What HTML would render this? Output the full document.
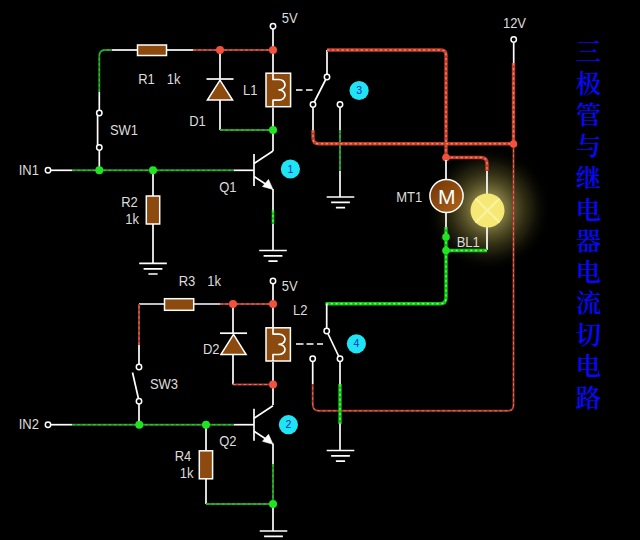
<!DOCTYPE html>
<html lang="zh"><head><meta charset="utf-8"><title>三极管与继电器电流切电路</title>
<style>
html,body{margin:0;padding:0;background:#000;}
body{width:640px;height:540px;overflow:hidden;}
svg{display:block}
svg text{font-family:"Liberation Sans","Noto Sans CJK SC",sans-serif;fill:#dcdcdc;}
.w{fill:none;stroke:#fff;stroke-width:1.7;stroke-linecap:butt;stroke-linejoin:round}
.t{fill:#000;stroke:#fff;stroke-width:1.5}
.b{fill:#8c4a0e;stroke:#fff;stroke-width:1.5;stroke-linejoin:miter}
.cn text{font-family:"Liberation Serif","Noto Serif CJK SC",serif;font-weight:600;fill:#0808fa;font-size:25.5px;text-anchor:middle}
</style></head><body>
<svg width="640" height="540" viewBox="0 0 640 540">
<defs>
<radialGradient id="glow" cx="50%" cy="50%" r="50%">
<stop offset="0" stop-color="#8a8248" stop-opacity="1"/>
<stop offset="0.25" stop-color="#807842" stop-opacity="1"/>
<stop offset="0.45" stop-color="#5a5428" stop-opacity="0.85"/>
<stop offset="0.7" stop-color="#3a3616" stop-opacity="0.5"/>
<stop offset="1" stop-color="#000" stop-opacity="0"/>
</radialGradient>
<linearGradient id="mot" x1="0" y1="0" x2="1" y2="1">
<stop offset="0" stop-color="#6e3204"/>
<stop offset="1" stop-color="#b0651c"/>
</linearGradient>
</defs>
<rect width="640" height="540" fill="#000"/>
<circle cx="488.5" cy="209" r="63" fill="url(#glow)"/>

<path d="M273 29V73" class="w"/>
<circle cx="273" cy="26.2" r="2.7" class="t"/>
<path d="M273 107.5V151" class="w"/>
<path d="M99.3 92V56Q99.3 50 105.3 50H112" fill="none" stroke="#1b981b" stroke-width="1.9" stroke-linecap="butt" stroke-linejoin="round"/>
<path d="M99.3 92V56Q99.3 50 105.3 50H112" fill="none" stroke="#52bd52" stroke-width="0.9" stroke-dasharray="3 2.2" stroke-linejoin="round"/>
<path d="M112 50H138" class="w"/>
<path d="M166 50H193" class="w"/>
<path d="M193 50H273" fill="none" stroke="#ae352a" stroke-width="1.9" stroke-linecap="butt" stroke-linejoin="round"/>
<path d="M193 50H273" fill="none" stroke="#e07868" stroke-width="0.9" stroke-dasharray="3 2.2" stroke-linejoin="round"/>
<rect x="137.5" y="45" width="29.0" height="10.5" class="b"/>
<path d="M99.3 92V110" class="w"/>
<path d="M97.6 113V147.5" class="w"/>
<path d="M99.3 150.5V170" class="w"/>
<circle cx="99.3" cy="113" r="2.7" class="t"/>
<circle cx="99.3" cy="147.5" r="2.7" class="t"/>
<path d="M51 170.3H72" class="w"/>
<path d="M72 170.3H234" fill="none" stroke="#1b981b" stroke-width="1.9" stroke-linecap="butt" stroke-linejoin="round"/>
<path d="M72 170.3H234" fill="none" stroke="#52bd52" stroke-width="0.9" stroke-dasharray="3 2.2" stroke-linejoin="round"/>
<path d="M234 170.3H254" class="w"/>
<circle cx="48" cy="170.3" r="2.7" class="t"/>
<path d="M153 170V196M153 224V263.4" class="w"/>
<rect x="146.3" y="196" width="13.399999999999977" height="28" class="b"/>
<path d="M139.2 263.4H166.8M143.6 268.79999999999995H162.4M148.4 274.0H157.6" class="w"/>
<path d="M220 50V79M220 99V130" class="w"/>
<path d="M206.5 79H233.5" class="w"/>
<path d="M220 80.2L232.6 100H207.4Z" class="b"/>
<path d="M220 130H273" fill="none" stroke="#1b981b" stroke-width="1.9" stroke-linecap="butt" stroke-linejoin="round"/>
<path d="M220 130H273" fill="none" stroke="#52bd52" stroke-width="0.9" stroke-dasharray="3 2.2" stroke-linejoin="round"/>
<rect x="266" y="73.2" width="24.600000000000023" height="33.5" class="b" stroke-width="1.6"/>
<path d="M273 73.2V79.5H279A6 5.175000000000001 0 0 1 279 89.85A6 5.175000000000001 0 0 1 279 100.2H273V106.7" class="w"/>
<path d="M254 154V186" class="w"/>
<path d="M254 163.5L273 151" class="w"/>
<path d="M254 176.5L267 185" class="w"/>
<path d="M273 189.5L262.5 186.5L268.5 179.5Z" fill="#fff" stroke="#fff" stroke-width="0.6" stroke-linejoin="round"/>
<path d="M273 189V250.5" class="w"/>
<path d="M273 210V224" fill="none" stroke="#10c010" stroke-width="2.6" stroke-linecap="butt" stroke-linejoin="round"/>
<path d="M273 210V224" fill="none" stroke="#6df56d" stroke-width="1.4" stroke-dasharray="2.4 2.4" stroke-linejoin="round"/>
<path d="M259.2 250.5H286.8M263.6 255.9H282.4M268.4 261.1H277.6" class="w"/>
<circle cx="220" cy="50" r="4" fill="#f0503c"/>
<circle cx="273" cy="50" r="4" fill="#f0503c"/>
<circle cx="273" cy="130" r="4" fill="#1fe41f"/>
<circle cx="99.3" cy="170.3" r="4" fill="#1fe41f"/>
<circle cx="153" cy="170.3" r="4" fill="#1fe41f"/>
<path d="M296 90H302.5M306 90H312.5" class="w"/>
<path d="M327 50V74" class="w"/>
<path d="M313 104.5L327 77" class="w"/>
<path d="M313 107.5V130" class="w"/>
<path d="M340 107.5V130" class="w"/>
<path d="M340 130V171" fill="none" stroke="#1b981b" stroke-width="1.9" stroke-linecap="butt" stroke-linejoin="round"/>
<path d="M340 130V171" fill="none" stroke="#52bd52" stroke-width="0.9" stroke-dasharray="3 2.2" stroke-linejoin="round"/>
<path d="M340 171V197" class="w"/>
<path d="M326.7 197H354.3M331.1 202.4H349.9M335.9 207.6H345.1" class="w"/>
<circle cx="327" cy="77" r="2.7" class="t"/>
<circle cx="313" cy="104.5" r="2.7" class="t"/>
<circle cx="340" cy="104.5" r="2.7" class="t"/>
<path d="M327 50H441Q446 50 446 55V157.5" fill="none" stroke="#c23b28" stroke-width="3.4" stroke-linecap="butt" stroke-linejoin="round"/>
<path d="M327 50H441Q446 50 446 55V157.5" fill="none" stroke="#ee8468" stroke-width="1.4" stroke-dasharray="2.4 2.4" stroke-linejoin="round"/>
<path d="M313 130V138Q313 143.8 319 143.8H513.5" fill="none" stroke="#c23b28" stroke-width="3.4" stroke-linecap="butt" stroke-linejoin="round"/>
<path d="M313 130V138Q313 143.8 319 143.8H513.5" fill="none" stroke="#ee8468" stroke-width="1.4" stroke-dasharray="2.4 2.4" stroke-linejoin="round"/>
<path d="M513.5 63V144" fill="none" stroke="#c23b28" stroke-width="3.4" stroke-linecap="butt" stroke-linejoin="round"/>
<path d="M513.5 63V144" fill="none" stroke="#ee8468" stroke-width="1.4" stroke-dasharray="2.4 2.4" stroke-linejoin="round"/>
<path d="M446 157.5H481Q487 157.5 487 163.5V171" fill="none" stroke="#c23b28" stroke-width="3.4" stroke-linecap="butt" stroke-linejoin="round"/>
<path d="M446 157.5H481Q487 157.5 487 163.5V171" fill="none" stroke="#ee8468" stroke-width="1.4" stroke-dasharray="2.4 2.4" stroke-linejoin="round"/>
<path d="M513.7 42.5V63" class="w"/>
<circle cx="513.7" cy="39.5" r="2.7" class="t"/>
<path d="M513.5 144V405Q513.5 410.8 508 410.8H319Q312.7 410.8 312.7 404V384" fill="none" stroke="#ae352a" stroke-width="1.9" stroke-linecap="butt" stroke-linejoin="round"/>
<path d="M513.5 144V405Q513.5 410.8 508 410.8H319Q312.7 410.8 312.7 404V384" fill="none" stroke="#e07868" stroke-width="0.9" stroke-dasharray="3 2.2" stroke-linejoin="round"/>
<circle cx="513.5" cy="144" r="3.8" fill="#f0503c"/>
<circle cx="446" cy="157.5" r="3.8" fill="#f0503c"/>
<path d="M446 160V180M446 212V227" class="w"/>
<circle cx="446.5" cy="196" r="16.6" fill="url(#mot)" stroke="#fff" stroke-width="1.5"/>
 <text transform="translate(446.7 203.8) scale(1.08 1)" font-size="19.5" text-anchor="middle" fill="#fff" style="fill:#fff">M</text>
<path d="M487 171V194M487 227V250" class="w"/>
<circle cx="487.5" cy="210.5" r="17" fill="#f5e874"/>
<path d="M475.5 198.5L499.5 222.5M499.5 198.5L475.5 222.5" stroke="#faf2a0" stroke-width="2.2" fill="none"/>
<path d="M446 227V298Q446 303.7 440 303.7H325.5" fill="none" stroke="#10c010" stroke-width="3.4" stroke-linecap="butt" stroke-linejoin="round"/>
<path d="M446 227V298Q446 303.7 440 303.7H325.5" fill="none" stroke="#6df56d" stroke-width="1.4" stroke-dasharray="2.4 2.4" stroke-linejoin="round"/>
<path d="M446 250.5H487" fill="none" stroke="#10c010" stroke-width="3.4" stroke-linecap="butt" stroke-linejoin="round"/>
<path d="M446 250.5H487" fill="none" stroke="#6df56d" stroke-width="1.4" stroke-dasharray="2.4 2.4" stroke-linejoin="round"/>
<circle cx="446" cy="237" r="3.8" fill="#1fe41f"/>
<circle cx="446" cy="250.5" r="3.8" fill="#1fe41f"/>
<path d="M273 284V327M273 362V405" class="w"/>
<circle cx="273" cy="281" r="2.7" class="t"/>
<path d="M139 345V364M139 304H164.5M193.5 304H220" class="w"/>
<path d="M139 345V304" fill="none" stroke="#ae352a" stroke-width="1.9" stroke-linecap="butt" stroke-linejoin="round"/>
<path d="M139 345V304" fill="none" stroke="#e07868" stroke-width="0.9" stroke-dasharray="3 2.2" stroke-linejoin="round"/>
<path d="M220 304H273" fill="none" stroke="#ae352a" stroke-width="1.9" stroke-linecap="butt" stroke-linejoin="round"/>
<path d="M220 304H273" fill="none" stroke="#e07868" stroke-width="0.9" stroke-dasharray="3 2.2" stroke-linejoin="round"/>
<rect x="164.5" y="298.7" width="29.19999999999999" height="11.600000000000023" class="b"/>
<path d="M139 401L132.5 372.5" class="w"/>
<path d="M139 404V424" class="w"/>
<circle cx="139" cy="367" r="2.7" class="t"/>
<circle cx="139" cy="401.2" r="2.7" class="t"/>
<path d="M51 424.7H72" class="w"/>
<path d="M72 424.7H234" fill="none" stroke="#1b981b" stroke-width="1.9" stroke-linecap="butt" stroke-linejoin="round"/>
<path d="M72 424.7H234" fill="none" stroke="#52bd52" stroke-width="0.9" stroke-dasharray="3 2.2" stroke-linejoin="round"/>
<path d="M234 424.7H254" class="w"/>
<circle cx="48" cy="424.7" r="2.7" class="t"/>
<path d="M233 304V333M233 355V384.5" class="w"/>
<path d="M220.0 333.2H247.0" class="w"/>
<path d="M233.5 334.4L246.1 354.6H220.9Z" class="b"/>
<path d="M233 384.5H273" fill="none" stroke="#ae352a" stroke-width="1.9" stroke-linecap="butt" stroke-linejoin="round"/>
<path d="M233 384.5H273" fill="none" stroke="#e07868" stroke-width="0.9" stroke-dasharray="3 2.2" stroke-linejoin="round"/>
<rect x="266" y="327.8" width="24.399999999999977" height="33.19999999999999" class="b" stroke-width="1.6"/>
<path d="M273 327.8V334.1H279A6 5.099999999999994 0 0 1 279 344.3A6 5.099999999999994 0 0 1 279 354.5H273V361" class="w"/>
<path d="M254 408.8V440.8" class="w"/>
<path d="M254 418.3L273 405.8" class="w"/>
<path d="M254 431.3L267 439.8" class="w"/>
<path d="M273 444.3L262.5 441.3L268.5 434.3Z" fill="#fff" stroke="#fff" stroke-width="0.6" stroke-linejoin="round"/>
<path d="M273 443.5V464" class="w"/>
<path d="M273 464V504" fill="none" stroke="#1b981b" stroke-width="1.9" stroke-linecap="butt" stroke-linejoin="round"/>
<path d="M273 464V504" fill="none" stroke="#52bd52" stroke-width="0.9" stroke-dasharray="3 2.2" stroke-linejoin="round"/>
<path d="M273 504V531" class="w"/>
<path d="M259.7 531H287.3M264.1 536.4H282.9M268.9 541.6H278.1" class="w"/>
<path d="M206 424V451M206 479V504" class="w"/>
<rect x="199.3" y="450.8" width="13.299999999999983" height="28.0" class="b"/>
<path d="M206 504H273" fill="none" stroke="#1b981b" stroke-width="1.9" stroke-linecap="butt" stroke-linejoin="round"/>
<path d="M206 504H273" fill="none" stroke="#52bd52" stroke-width="0.9" stroke-dasharray="3 2.2" stroke-linejoin="round"/>
<circle cx="233" cy="304" r="4" fill="#f0503c"/>
<circle cx="273" cy="304" r="4" fill="#f0503c"/>
<circle cx="273" cy="384.5" r="4" fill="#f0503c"/>
<circle cx="139.3" cy="424.7" r="4" fill="#1fe41f"/>
<circle cx="206" cy="424.7" r="4" fill="#1fe41f"/>
<circle cx="273" cy="504" r="4" fill="#1fe41f"/>
<path d="M296 344H303.5M306.5 344H313.5M317 344H323" class="w"/>
<path d="M326.7 304V328" class="w"/>
<path d="M326.7 331L340 359" class="w"/>
<path d="M312.7 362V384" class="w"/>
<path d="M340 362V384" class="w"/>
<path d="M340 384V424" fill="none" stroke="#10c010" stroke-width="3.4" stroke-linecap="butt" stroke-linejoin="round"/>
<path d="M340 384V424" fill="none" stroke="#6df56d" stroke-width="1.4" stroke-dasharray="2.4 2.4" stroke-linejoin="round"/>
<path d="M340 424V450.5" class="w"/>
<path d="M326.7 450.5H354.3M331.1 455.9H349.9M335.9 461.1H345.1" class="w"/>
<circle cx="326.7" cy="331" r="2.7" class="t"/>
<circle cx="312.7" cy="358.8" r="2.7" class="t"/>
<circle cx="340" cy="358.8" r="2.7" class="t"/>
<circle cx="290.4" cy="169" r="9.6" fill="#1fe4f4"/>
<text x="290.4" y="172.6" font-size="10.5" style="fill:#0a2cb8" text-anchor="middle">1</text>
<circle cx="359.09999999999997" cy="90.5" r="9.6" fill="#1fe4f4"/>
<text x="359.09999999999997" y="94.1" font-size="10.5" style="fill:#0a2cb8" text-anchor="middle">3</text>
<circle cx="356.4" cy="343.8" r="9.6" fill="#1fe4f4"/>
<text x="356.4" y="347.40000000000003" font-size="10.5" style="fill:#0a2cb8" text-anchor="middle">4</text>
<circle cx="288.4" cy="424.7" r="9.6" fill="#1fe4f4"/>
<text x="288.4" y="428.3" font-size="10.5" style="fill:#0a2cb8" text-anchor="middle">2</text>
<text transform="translate(281.7 23.2) scale(0.93 1)" font-size="14">5V</text>
<text transform="translate(138.2 83.9) scale(0.93 1)" font-size="14">R1</text>
<text transform="translate(166.7 83.9) scale(0.93 1)" font-size="14">1k</text>
<text transform="translate(189.2 126.2) scale(0.93 1)" font-size="14">D1</text>
<text transform="translate(242.89999999999998 94.7) scale(0.93 1)" font-size="14">L1</text>
<text transform="translate(109.9 134.7) scale(0.93 1)" font-size="14">SW1</text>
<text transform="translate(18.7 174.89999999999998) scale(0.93 1)" font-size="14">IN1</text>
<text transform="translate(121.2 207.2) scale(0.93 1)" font-size="14">R2</text>
<text transform="translate(125.2 224.0) scale(0.93 1)" font-size="14">1k</text>
<text transform="translate(219.2 191.5) scale(0.93 1)" font-size="14">Q1</text>
<text transform="translate(396.2 201.7) scale(0.93 1)" font-size="14">MT1</text>
<text transform="translate(456.7 246.7) scale(0.93 1)" font-size="14">BL1</text>
<text transform="translate(502.9 27.7) scale(0.93 1)" font-size="14">12V</text>
<text transform="translate(178.7 285.5) scale(0.93 1)" font-size="14">R3</text>
<text transform="translate(207.2 285.5) scale(0.93 1)" font-size="14">1k</text>
<text transform="translate(281.7 290.7) scale(0.93 1)" font-size="14">5V</text>
<text transform="translate(292.9 314.7) scale(0.93 1)" font-size="14">L2</text>
<text transform="translate(202.89999999999998 354.0) scale(0.93 1)" font-size="14">D2</text>
<text transform="translate(149.89999999999998 389.2) scale(0.93 1)" font-size="14">SW3</text>
<text transform="translate(18.7 429.0) scale(0.93 1)" font-size="14">IN2</text>
<text transform="translate(219.2 446.0) scale(0.93 1)" font-size="14">Q2</text>
<text transform="translate(174.7 460.7) scale(0.93 1)" font-size="14">R4</text>
<text transform="translate(179.7 477.9) scale(0.93 1)" font-size="14">1k</text>
<g class="cn">
<text x="588.5" y="61.0">三</text>
<text x="588.5" y="93.0">极</text>
<text x="588.5" y="124.0">管</text>
<text x="588.5" y="155.0">与</text>
<text x="588.5" y="187.0">继</text>
<text x="588.5" y="218.5">电</text>
<text x="588.5" y="250.0">器</text>
<text x="588.5" y="281.0">电</text>
<text x="588.5" y="312.0">流</text>
<text x="588.5" y="343.5">切</text>
<text x="588.5" y="375.0">电</text>
<text x="588.5" y="407.0">路</text>
</g>
</svg></body></html>
